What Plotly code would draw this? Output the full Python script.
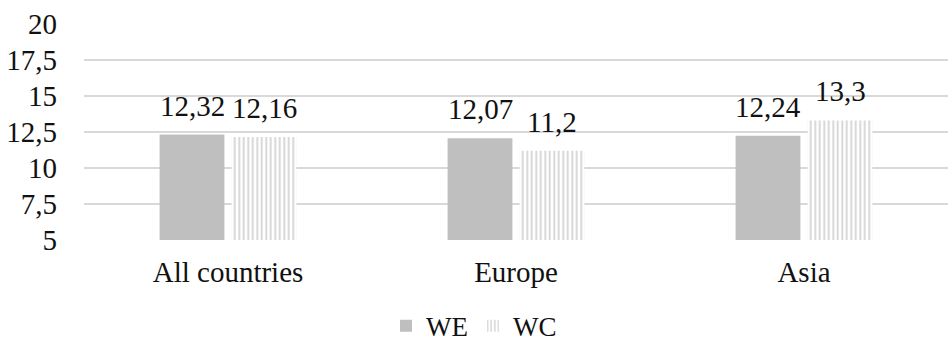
import plotly.graph_objects as go

categories = ["All countries", "Europe", "Asia"]
we_values = [12.32, 12.07, 12.24]
wc_values = [12.16, 11.2, 13.3]
y_ticks = [5, 7.5, 10, 12.5, 15, 17.5, 20]

FONT = "'Times New Roman', 'Liberation Serif', 'DejaVu Serif', serif"
TEXT = "#111111"


def comma(v):
    return f"{v:g}".replace(".", ",")


fig = go.Figure()
fig.add_trace(go.Bar(
    name="WE", x=categories, y=we_values, offsetgroup="we",
    marker=dict(color="#bfbfbf", line=dict(width=0)),
))
fig.add_trace(go.Bar(
    name="WC", x=categories, y=wc_values, offsetgroup="wc",
    marker=dict(
        color="#ffffff", line=dict(width=0),
        pattern=dict(shape="|", fgcolor="#a8a8a8", bgcolor="#ffffff",
                     size=4.5, solidity=0.4),
    ),
))

# value labels above each bar (grouped bar offsets: 0.5 bargap, two slots)
for vals, dx in ((we_values, -0.125), (wc_values, 0.125)):
    for i, v in enumerate(vals):
        fig.add_annotation(
            x=i + dx, y=v, xref="x", yref="y", text=comma(v),
            showarrow=False, yanchor="bottom", yshift=11,
            font=dict(size=29, family=FONT, color=TEXT),
        )

fig.update_layout(
    width=948, height=348,
    margin=dict(l=84, r=0, t=24, b=108),
    paper_bgcolor="white", plot_bgcolor="white",
    barmode="group", bargap=0.5, bargroupgap=0.1,
    font=dict(family=FONT, size=29, color=TEXT),
    showlegend=True,
    legend=dict(
        orientation="h", xref="container", yref="container",
        x=0.5, xanchor="center", y=0.063, yanchor="middle",
        font=dict(size=27, family=FONT, color=TEXT),
        itemwidth=30, tracegroupgap=0,
    ),
)
fig.update_xaxes(
    showgrid=False, showline=False, zeroline=False,
    tickfont=dict(size=29, family=FONT, color=TEXT), ticklabelstandoff=12,
)
fig.update_yaxes(
    range=[5, 20], tickvals=y_ticks,
    ticktext=[comma(v) for v in y_ticks],
    showgrid=True, gridcolor="#d9d9d9", gridwidth=1.5,
    zeroline=False, showline=False,
    tickfont=dict(size=29, family=FONT, color=TEXT), ticklabelstandoff=26,
)

fig.write_html("out.html")
